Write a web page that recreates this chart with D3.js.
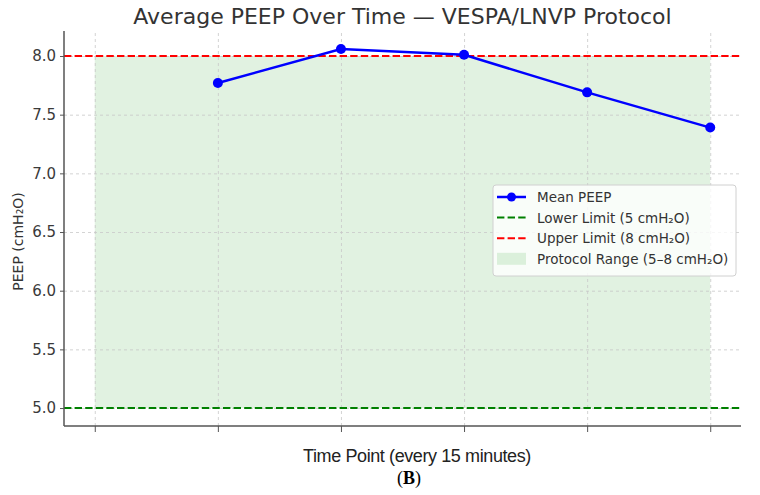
<!DOCTYPE html>
<html>
<head>
<meta charset="utf-8">
<script src="https://cdn.jsdelivr.net/npm/d3@7"></script>
<style>
    body { margin: 0; background: #fff; }
    #chart { width: 760px; height: 495px; }
    text { font-family: "DejaVu Sans", sans-serif; }
</style>
</head>
<body>
<div id="chart"></div>
<script>
// data
var timePoints = [0, 1, 2, 3, 4, 5];
var meanPeep = [null, 7.77, 8.06, 8.01, 7.69, 7.39];
var yTicks = [5.0, 5.5, 6.0, 6.5, 7.0, 7.5, 8.0];
var lowerLimit = 5, upperLimit = 8;
var legendLabels = ["Mean PEEP", "Lower Limit (5 cmH\u2082O)", "Upper Limit (8 cmH\u2082O)", "Protocol Range (5\u20138 cmH\u2082O)"];

function render() {
    var width = 760, height = 495;
    var margin = {top: 31, right: 19, bottom: 69, left: 64};

    var svg = d3.select("#chart").append("svg")
        .attr("width", width)
        .attr("height", height);

    //scales, matplotlib style 5% margins
    var x = d3.scaleLinear()
        .domain([-0.25, 5.25])
        .range([margin.left, width - margin.right]);
    var y = d3.scaleLinear()
        .domain([4.847, 8.213])
        .range([height - margin.bottom, margin.top]);

    var g = svg.append("g");

    //protocol range shading
    g.append("rect")
        .attr("x", x(timePoints[0]))
        .attr("y", y(upperLimit))
        .attr("width", x(timePoints[timePoints.length - 1]) - x(timePoints[0]))
        .attr("height", y(lowerLimit) - y(upperLimit))
        .style("fill", "#2ca02c")
        .style("opacity", 0.14);

    //grid
    g.append("g")
        .attr("transform", "translate(0," + (height - margin.bottom) + ")")
        .call(d3.axisBottom(x).tickValues(timePoints).tickSize(-(height - margin.bottom - margin.top)).tickFormat(""))
        .call(function(s){ s.select(".domain").remove(); })
        .selectAll("line")
        .style("stroke", "#c8c8c8")
        .style("stroke-dasharray", "3,3")
        .style("stroke-width", 0.8);

    g.append("g")
        .attr("transform", "translate(" + margin.left + ",0)")
        .call(d3.axisLeft(y).tickValues(yTicks).tickSize(-(width - margin.left - margin.right)).tickFormat(""))
        .call(function(s){ s.select(".domain").remove(); })
        .selectAll("line")
        .style("stroke", "#c8c8c8")
        .style("stroke-dasharray", "3,3")
        .style("stroke-width", 0.8);

    //limit lines
    g.append("line")
        .attr("x1", margin.left).attr("x2", width - margin.right)
        .attr("y1", y(lowerLimit)).attr("y2", y(lowerLimit))
        .style("stroke", "#008000")
        .style("stroke-width", 2)
        .style("stroke-dasharray", "7.4,3.2");

    g.append("line")
        .attr("x1", margin.left).attr("x2", width - margin.right)
        .attr("y1", y(upperLimit)).attr("y2", y(upperLimit))
        .style("stroke", "#ff0000")
        .style("stroke-width", 2)
        .style("stroke-dasharray", "7.4,3.2");

    //mean peep line
    var pts = timePoints.map(function(t, i){ return {t: t, v: meanPeep[i]}; })
        .filter(function(d){ return d.v != null; });

    var line = d3.line()
        .x(function(d){ return x(d.t); })
        .y(function(d){ return y(d.v); });

    g.append("path")
        .datum(pts)
        .attr("d", line)
        .style("fill", "none")
        .style("stroke", "#0000ff")
        .style("stroke-width", 2.5);

    g.selectAll(".dot")
        .data(pts)
        .enter().append("circle")
        .attr("class", "dot")
        .attr("cx", function(d){ return x(d.t); })
        .attr("cy", function(d){ return y(d.v); })
        .attr("r", 5)
        .style("fill", "#0000ff");

    //axes
    var xAxis = svg.append("g")
        .attr("transform", "translate(0," + (height - margin.bottom) + ")")
        .call(d3.axisBottom(x).tickValues(timePoints).tickSize(6).tickFormat(""));
    xAxis.select(".domain").attr("d", "M" + margin.left + ",0H" + (width - margin.right));

    var yAxis = svg.append("g")
        .attr("transform", "translate(" + margin.left + ",0)")
        .call(d3.axisLeft(y).tickValues(yTicks).tickSize(4).tickPadding(4).tickFormat(d3.format(".1f")));
    yAxis.select(".domain").attr("d", "M0," + (height - margin.bottom) + "V" + margin.top);

    svg.selectAll(".domain").style("stroke", "#555").style("stroke-width", 1.5);
    xAxis.selectAll(".tick line").style("stroke", "#555");
    yAxis.selectAll(".tick line").style("stroke", "#555");
    yAxis.selectAll("text")
        .style("font-family", "DejaVu Sans")
        .style("font-size", "15px")
        .style("fill", "#3a3a3a");

    //title
    svg.append("text")
        .attr("x", (margin.left + width - margin.right) / 2)
        .attr("y", 24)
        .attr("text-anchor", "middle")
        .style("font-size", "22px")
        .style("fill", "#333")
        .text("Average PEEP Over Time \u2014 VESPA/LNVP Protocol");

    //y label
    svg.append("text")
        .attr("transform", "translate(23," + ((margin.top + height - margin.bottom) / 2 + 13) + ") rotate(-90)")
        .attr("text-anchor", "middle")
        .style("font-size", "14px")
        .style("fill", "#333")
        .text("PEEP (cmH\u2082O)");

    //x label
    svg.append("text")
        .attr("x", 417)
        .attr("y", 462)
        .attr("text-anchor", "middle")
        .style("font-family", "Liberation Sans")
        .style("font-size", "18px")
        .style("letter-spacing", "-0.4px")
        .style("fill", "#222")
        .text("Time Point (every 15 minutes)");

    //panel letter
    var panel = svg.append("text")
        .attr("x", 409)
        .attr("y", 484)
        .attr("text-anchor", "middle")
        .style("font-family", "Liberation Serif")
        .style("font-size", "18px")
        .style("fill", "#000");
    panel.append("tspan").text("(");
    panel.append("tspan").style("font-weight", "bold").text("B");
    panel.append("tspan").text(")");

    /////////////key//////////////
    var legend = svg.append("g")
        .attr("transform", "translate(493,185)");

    legend.append("rect")
        .attr("width", 243)
        .attr("height", 91)
        .attr("rx", 3)
        .style("fill", "#fff")
        .style("fill-opacity", 0.8)
        .style("stroke", "#d0d0d0");

    var rows = legend.selectAll(".row")
        .data(legendLabels)
        .enter().append("g")
        .attr("class", "row")
        .attr("transform", function(d, i){ return "translate(0," + (12 + i * 20.6) + ")"; });

    rows.each(function(d, i){
        var r = d3.select(this);
        if (i === 0) {
            r.append("line").attr("x1", 4).attr("x2", 33).style("stroke", "#0000ff").style("stroke-width", 2.5);
            r.append("circle").attr("cx", 18.5).attr("r", 4.5).style("fill", "#0000ff");
        } else if (i === 1 || i === 2) {
            r.append("line").attr("x1", 4).attr("x2", 33)
                .style("stroke", i === 1 ? "#008000" : "#ff0000")
                .style("stroke-width", 2)
                .style("stroke-dasharray", "7.4,3.2");
        } else {
            r.append("rect").attr("x", 4).attr("y", -6).attr("width", 29).attr("height", 12)
                .style("fill", "#2ca02c").style("opacity", 0.14);
        }
        r.append("text")
            .attr("x", 44)
            .attr("y", 5)
            .style("font-size", "13.5px")
            .style("fill", "#333")
            .text(d);
    });
}

render();
</script>
</body>
</html>
